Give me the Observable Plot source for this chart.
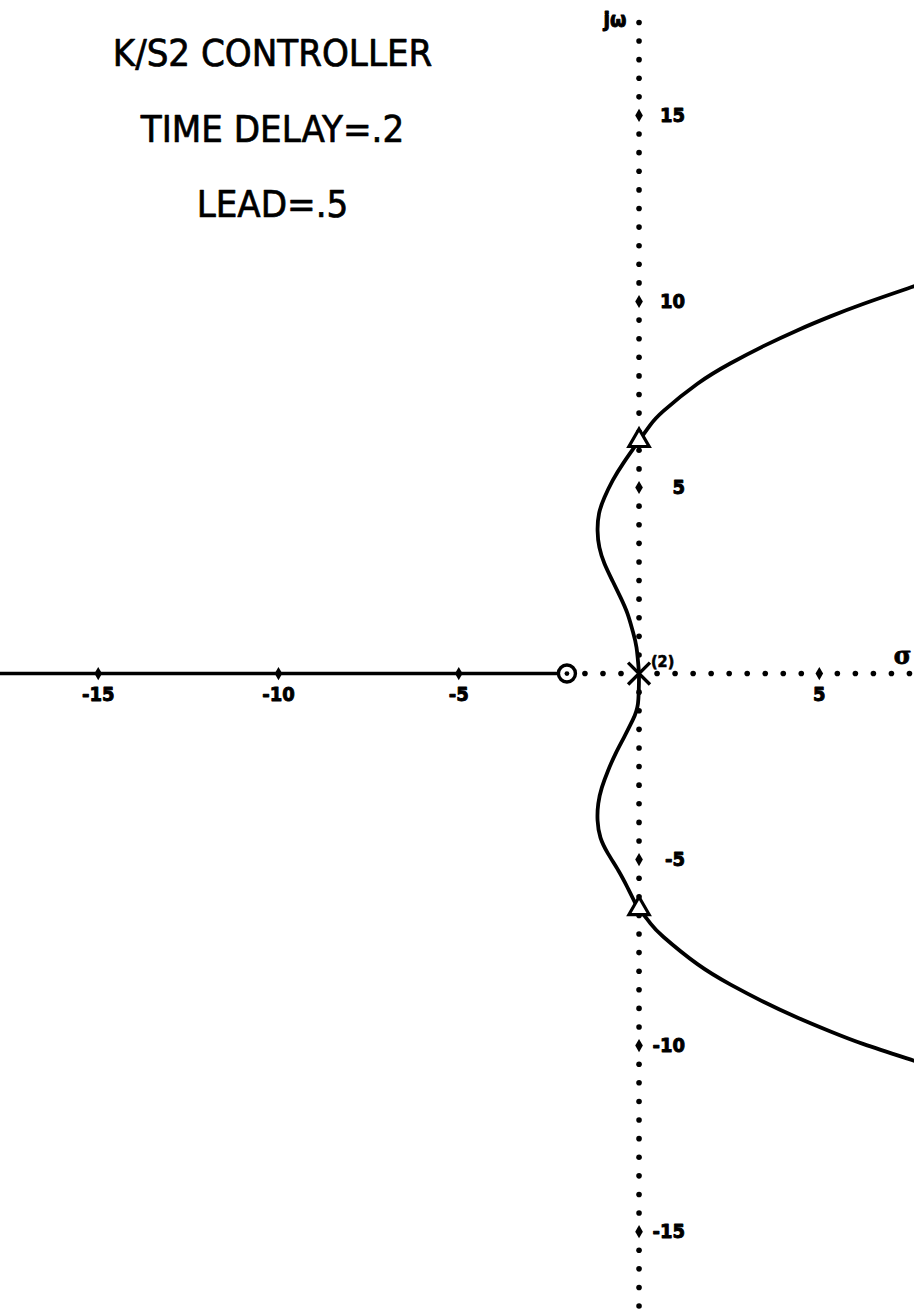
<!DOCTYPE html>
<html>
<head>
<meta charset="utf-8">
<script src="https://cdn.jsdelivr.net/npm/d3@7"></script>
<script src="https://cdn.jsdelivr.net/npm/@observablehq/plot@0.6"></script>
<style>
  body { margin: 0; background: #fff; }
  #chart svg { display: block; background: #fff; }
</style>
</head>
<body>
<div id="chart"></div>
<script>
// Root locus of K(s+2)e^(-0.2s)/s^2 : annotation lines
const titleLines = ["K/S2 CONTROLLER", "TIME DELAY=.2", "LEAD=.5"];

// Upper complex branch (sigma, omega), from the double pole outward
const upperSigma = [0, -0.07, -0.18, -0.32, -0.51, -0.74, -0.96, -1.10, -1.15, -1.11, -0.96, -0.73, -0.44, 0, 0.32, 0.68, 1.62, 2.54, 3.45, 4.40, 5.31, 6.23, 7.45, 7.70];
const upperOmega = [0, 0.70, 1.16, 1.61, 2.04, 2.50, 2.96, 3.39, 3.84, 4.30, 4.73, 5.19, 5.65, 6.26, 6.69, 7.06, 7.79, 8.34, 8.80, 9.23, 9.60, 9.94, 10.35, 10.43];

// Lower complex branch (sigma, omega)
const lowerSigma = [0, -0.03, -0.18, -0.42, -0.65, -0.86, -1.03, -1.13, -1.15, -1.07, -0.86, -0.57, -0.32, -0.10, 0, 0.32, 0.68, 1.62, 2.54, 3.45, 4.40, 5.31, 6.23, 7.45, 7.70];
const lowerOmega = [0, -0.81, -1.26, -1.72, -2.15, -2.61, -3.06, -3.49, -3.95, -4.41, -4.84, -5.30, -5.75, -6.18, -6.32, -6.72, -7.08, -7.81, -8.36, -8.82, -9.25, -9.62, -9.96, -10.35, -10.43];

// Imaginary-axis crossings, open-loop zero and double pole
const crossingOmega = [6.26, -6.32];
const zeroSigma = [-2];
const poleSigma = [0];
const poleMultiplicity = "(2)";

// Axis ticks
const xTicks = [-15, -10, -5, 5];
const yTicks = [15, 10, 5, -5, -10, -15];

const xDomain = [-17.71, 7.64];
const yDomain = [-17.20, 18.09];

const pts = (xs, ys) => xs.map((x, i) => ({x, y: ys[i]}));
const upper = pts(upperSigma, upperOmega);
const lower = pts(lowerSigma, lowerOmega);

// Dotted axes, a dot every half unit
const yAxisDots = d3.range(-17, 17.51, 0.5).filter(v => v !== 0 && v % 5 !== 0);
const xAxisDots = d3.range(-1.5, 7.51, 0.5).filter(v => v !== 0 && v % 5 !== 0);

const tickFont = "DejaVu Sans Condensed, DejaVu Sans, sans-serif";
const tickStyle = {fontSize: 20, fontWeight: "bold", fontFamily: tickFont, fill: "black", stroke: "black", strokeWidth: 0.9};

const chart = Plot.plot({
  width: 914,
  height: 1313,
  margin: 0,
  x: {domain: xDomain, axis: null},
  y: {domain: yDomain, axis: null},
  marks: [
    // real-axis locus left of the zero
    Plot.ruleY([0], {x1: xDomain[0], x2: zeroSigma[0], stroke: "black", strokeWidth: 3.6}),
    // dotted jω axis
    Plot.dot(yAxisDots, {x: 0, y: d => d, r: 2.8, fill: "black", stroke: null}),
    Plot.dot(yTicks, {x: 0, y: d => d, r: 4, fill: "black", stroke: null, symbol: "diamond"}),
    // dotted σ axis
    Plot.dot(xAxisDots, {x: d => d, y: 0, r: 2.8, fill: "black", stroke: null}),
    Plot.dot(xTicks, {x: d => d, y: 0, r: 4, fill: "black", stroke: null, symbol: "diamond"}),
    // complex branches
    Plot.line(upper, {x: "x", y: "y", curve: "natural", stroke: "black", strokeWidth: 3.8}),
    Plot.line(lower, {x: "x", y: "y", curve: "natural", stroke: "black", strokeWidth: 3.8}),
    // markers
    Plot.dot(crossingOmega, {x: 0, y: d => d, symbol: "triangle", r: 7.5, fill: "white", stroke: "black", strokeWidth: 3.2}),
    Plot.dot(zeroSigma, {x: d => d, y: 0, r: 8.5, fill: "white", stroke: "black", strokeWidth: 3.4}),
    Plot.dot(zeroSigma, {x: d => d, y: 0, r: 2.4, fill: "black", stroke: null}),
    Plot.dot(poleSigma, {x: d => d, y: 0, symbol: "times", r: 10, stroke: "black", strokeWidth: 3.4}),
    Plot.text([poleMultiplicity], {x: poleSigma[0], y: 0, dx: 12, dy: -12, textAnchor: "start", fontSize: 16, fontWeight: "bold", fontFamily: tickFont, fill: "black", stroke: "black", strokeWidth: 0.6}),
    // tick labels
    Plot.text(xTicks, {x: d => d, y: 0, text: d => String(d), dy: 21, ...tickStyle}),
    Plot.text(yTicks, {x: 0, y: d => d, text: d => String(d), dx: 46, textAnchor: "end", ...tickStyle}),
    // axis names
    Plot.text(["jω"], {x: 0, y: yDomain[1], dx: -24, dy: 20, ...tickStyle, fontSize: 21}),
    Plot.text(["σ"], {x: xDomain[1], y: 0, dx: -12, dy: -17, fontSize: 24, fontWeight: "bold", fontFamily: "DejaVu Serif, serif", fill: "black", stroke: "black", strokeWidth: 0.8}),
    // heading lines
    Plot.text([titleLines.join("\n")], {frameAnchor: "top-left", dx: 272, dy: 12, textAnchor: "middle", lineAnchor: "top", lineHeight: 1.99, fontSize: 38, fontFamily: tickFont, fill: "black", stroke: "black", strokeWidth: 0.7})
  ]
});

document.getElementById("chart").appendChild(chart);
</script>
</body>
</html>
